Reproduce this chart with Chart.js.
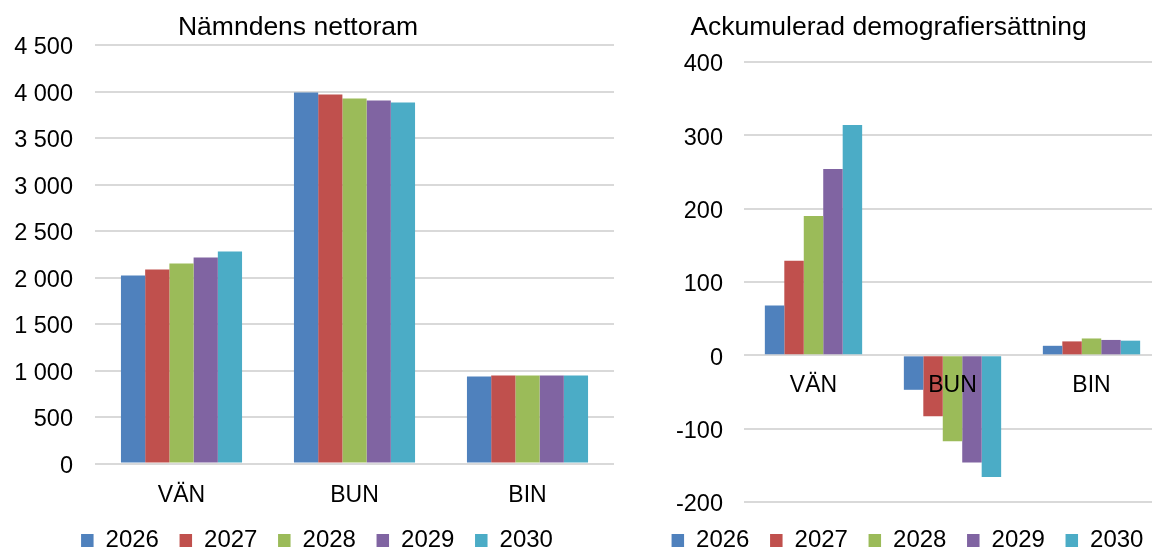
<!DOCTYPE html>
<html lang="sv">

<head>
    <meta charset="utf-8">
    <title>Nettoram och demografiersättning</title>
    <script src="https://cdn.jsdelivr.net/npm/chart.js"></script>
    <style>
        body { margin: 0; background: #fff; overflow: hidden; }
        .box { position: absolute; top: 0; height: 550px; overflow: hidden; }
        #vanster { left: 0; width: 614px; }
        #hoger { left: 614px; width: 538px; }
    </style>
</head>

<body>

    <div class="box" id="vanster"><canvas id="nettoram" width="614" height="550"></canvas></div>
    <!-- diagrammet till höger är lite bredare än rutan, precis som i originalet -->
    <div class="box" id="hoger"><canvas id="demografi" width="547" height="550"></canvas></div>

    <script>
        const namnder = ['VÄN', 'BUN', 'BIN'];
        const ar = ['2026', '2027', '2028', '2029', '2030'];
        const farger = ['#4F81BD', '#C0504D', '#9BBB59', '#8064A2', '#4BACC6'];

        // Nämndens nettoram, en rad per år (VÄN, BUN, BIN)
        const netto2026 = [2022, 3990, 935];
        const netto2027 = [2086, 3968, 945];
        const netto2028 = [2150, 3925, 945];
        const netto2029 = [2215, 3903, 945];
        const netto2030 = [2280, 3882, 945];

        // Ackumulerad demografiersättning
        const demo2026 = [68, -47, 13];
        const demo2027 = [129, -83, 19];
        const demo2028 = [190, -117, 23];
        const demo2029 = [254, -146, 21];
        const demo2030 = [314, -166, 20];

        const nettoTicks = ['0', '500', '1 000', '1 500', '2 000', '2 500', '3 000', '3 500', '4 000', '4 500'];
        const demoTicks = ['-200', '-100', '0', '100', '200', '300', '400'];

        const typsnitt = "'Liberation Sans', Arial, sans-serif";

        // flyttar titel och förklaring lite i sidled/höjdled
        const knuff = {
            id: 'knuff',
            afterLayout(chart, args, opts) {
                const l = chart.legend;
                const t = chart.titleBlock;
                l.left += opts.legendX; l.right += opts.legendX;
                l.top += opts.legendY; l.bottom += opts.legendY;
                t.left += opts.titleX; t.right += opts.titleX;
            }
        };

        function dataset(serier) {
            return serier.map(function (v, i) {
                return {
                    label: ar[i],
                    data: v,
                    backgroundColor: farger[i],
                    borderWidth: 0,
                    categoryPercentage: 0.7,
                    barPercentage: 1.0
                };
            });
        }

        function gemensamt(titel, titelBotten, knuffOpts, padding) {
            return {
                responsive: false,
                animation: false,
                layout: { padding: padding },
                plugins: {
                    title: {
                        display: true,
                        text: titel,
                        color: '#000',
                        font: { family: typsnitt, size: 26.5, weight: 'normal' },
                        padding: { top: 12, bottom: titelBotten }
                    },
                    legend: {
                        position: 'bottom',
                        labels: {
                            color: '#000',
                            boxWidth: 12.5,
                            boxHeight: 13,
                            padding: 20.6,
                            font: { family: typsnitt, size: 24 }
                        }
                    },
                    tooltip: { enabled: false },
                    knuff: knuffOpts
                }
            };
        }

        const config1 = {
            type: 'bar',
            data: {
                labels: namnder,
                datasets: dataset([netto2026, netto2027, netto2028, netto2029, netto2030])
            },
            options: gemensamt('Nämndens nettoram', 1.2, { legendX: 10, legendY: 0, titleX: -9 }, { bottom: -12.5 }),
            plugins: [knuff]
        };
        config1.options.scales = {
            x: {
                grid: { display: false },
                border: { display: false },
                ticks: { color: '#000', padding: 10, font: { family: typsnitt, size: 23 } },
                afterFit: function (scale) { scale.height = 44.4; }
            },
            y: {
                min: 0,
                max: 4500,
                grid: { color: '#d9d9d9', lineWidth: 2, drawTicks: false },
                border: { display: false },
                ticks: {
                    stepSize: 500,
                    color: '#000',
                    padding: 22,
                    labelOffset: 3,
                    font: { family: typsnitt, size: 23.5 },
                    callback: function (value, index) { return nettoTicks[index]; }
                },
                afterFit: function (scale) { scale.width = 95; }
            }
        };

        const config2 = {
            type: 'bar',
            data: {
                labels: namnder,
                datasets: dataset([demo2026, demo2027, demo2028, demo2029, demo2030])
            },
            options: gemensamt('Ackumulerad demografiersättning', 18.2, { legendX: 20, legendY: 5.9, titleX: 1 }, { bottom: -6.6 }),
            plugins: [knuff]
        };
        config2.options.scales = {
            x: {
                position: { y: 0 },
                grid: { display: false },
                border: { display: false },
                ticks: { z: 1, color: '#000', padding: 8.5, font: { family: typsnitt, size: 23 } }
            },
            y: {
                min: -200,
                max: 400,
                grid: { color: '#d9d9d9', lineWidth: 2, drawTicks: false },
                border: { display: false },
                ticks: {
                    stepSize: 100,
                    color: '#000',
                    padding: 21,
                    labelOffset: 3,
                    font: { family: typsnitt, size: 23.5 },
                    callback: function (value, index) { return demoTicks[index]; }
                },
                afterFit: function (scale) { scale.width = 130; }
            }
        };

        new Chart(document.getElementById('nettoram'), config1);
        new Chart(document.getElementById('demografi'), config2);
    </script>

</body>

</html>
